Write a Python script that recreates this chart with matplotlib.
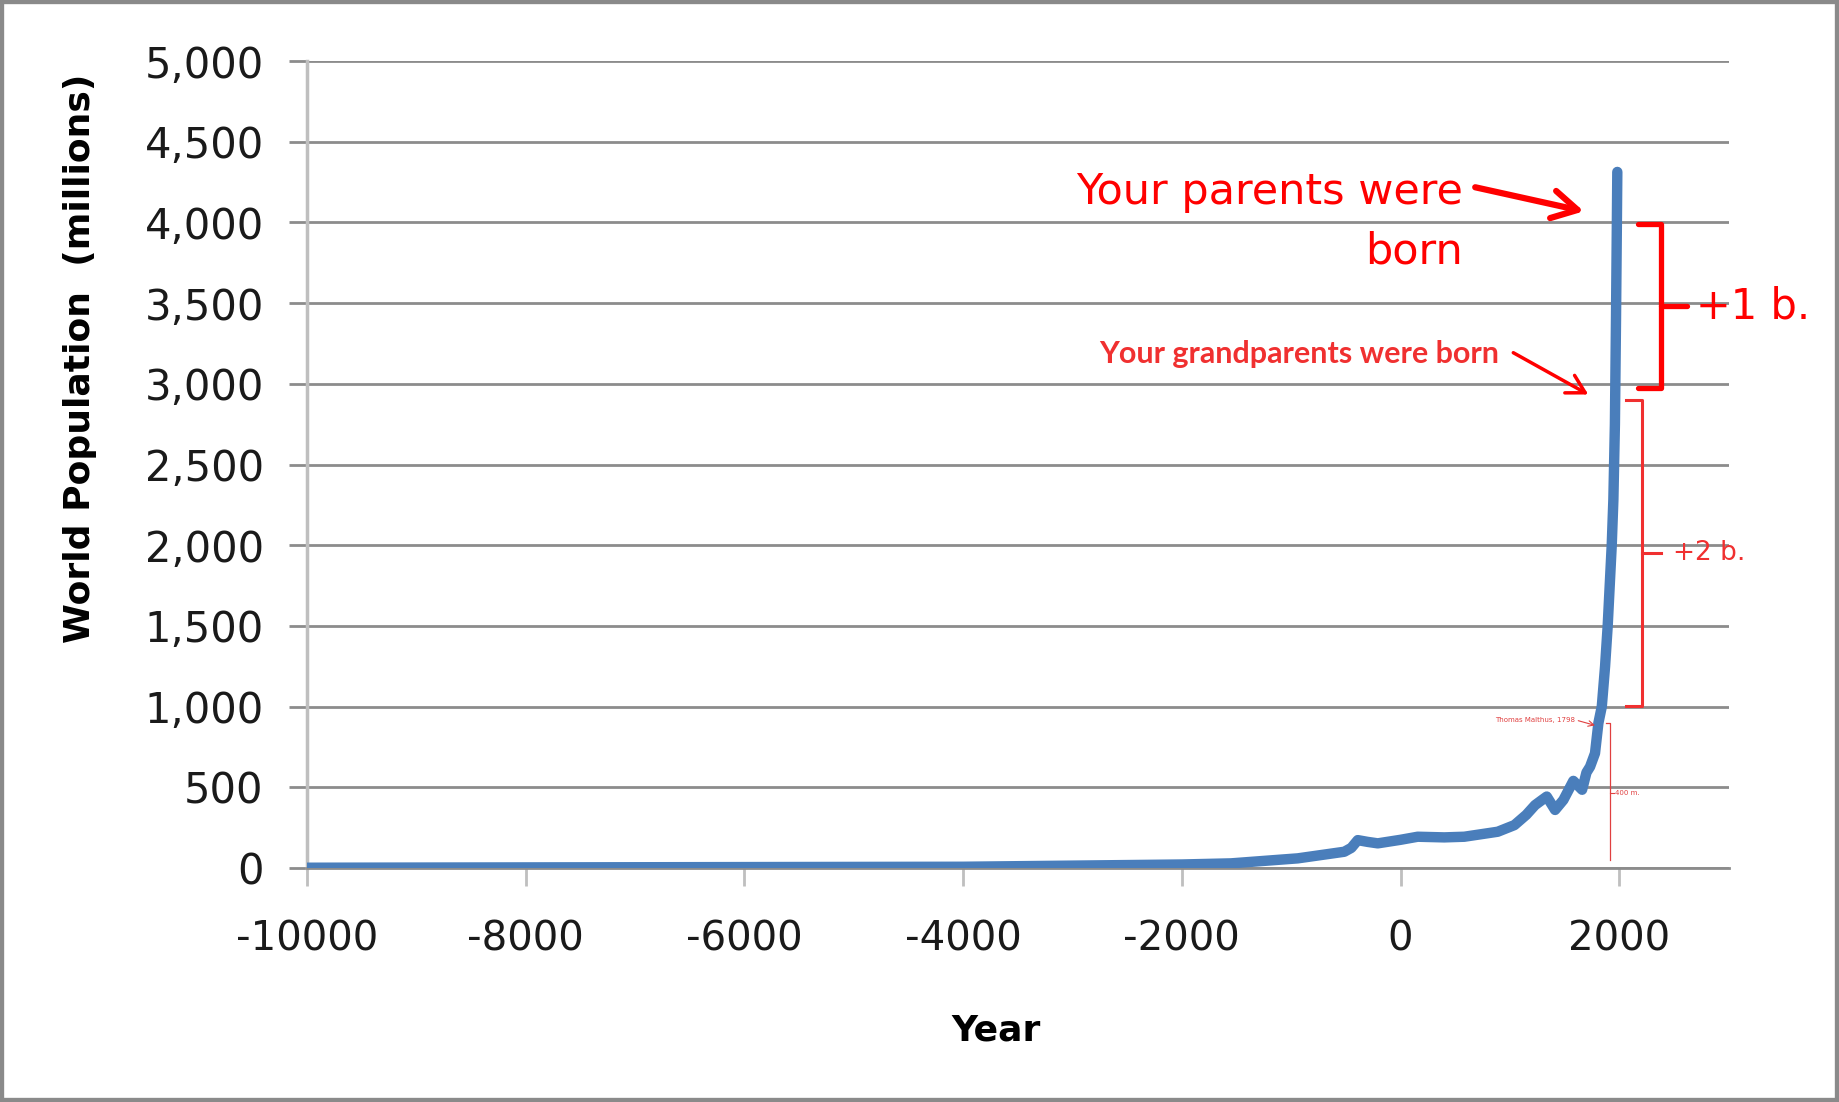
import matplotlib.pyplot as plt
from matplotlib.patches import Rectangle
from matplotlib.ticker import FuncFormatter

plt.rcParams["axes.unicode_minus"] = False

# world population estimates (year, millions)
years = [-10000, -9000, -8000, -7000, -6000, -5000, -4000, -3000, -2000, -1550,
         -940, -514, -450, -391, -300, -208, 0, 157, 400, 583,
         889, 1041, 1150, 1230, 1290, 1337, 1413, 1489, 1580, 1660,
         1700, 1733, 1778, 1809, 1840, 1870, 1894, 1931, 1946, 1960,
         1970, 1978, 1982]
population = [2, 3, 4, 5, 6, 7, 8, 15, 22, 29,
              60, 101, 125, 173, 162, 153, 175, 194, 190, 194,
              225, 266, 330, 390, 420, 443, 360, 422, 540, 485,
              592, 628, 711, 898, 1000, 1249, 1500, 2000, 2283, 2750,
              3400, 4000, 4313]

x_ticks = [-10000, -8000, -6000, -4000, -2000, 0, 2000]
y_ticks = [0, 500, 1000, 1500, 2000, 2500, 3000, 3500, 4000, 4500, 5000]

red = "#ff0000"
light_red = "#f03030"

fig = plt.figure(figsize=(18.39, 11.02), dpi=100)
ax = fig.add_axes([0.1668, 0.2123, 0.7732, 0.7323])

ax.plot(years, population, color="#4a7ebb", linewidth=7.5,
        solid_capstyle="round", solid_joinstyle="round", zorder=3)

ax.set_xlim(-10000, 3000)
ax.set_ylim(0, 5000)
ax.set_xticks(x_ticks)
ax.set_yticks(y_ticks)
ax.yaxis.set_major_formatter(FuncFormatter(lambda v, p: f"{int(v):,}"))
ax.grid(axis="y", color="#8c8c8c", linewidth=2)
ax.set_axisbelow(True)
ax.spines["top"].set_visible(False)
ax.spines["right"].set_visible(False)
ax.spines["left"].set_color("#bfbfbf")
ax.spines["left"].set_linewidth(2.5)
ax.spines["bottom"].set_color("#8c8c8c")
ax.spines["bottom"].set_linewidth(2)
ax.tick_params(axis="y", length=13, width=2, color="#8c8c8c",
               labelsize=30, pad=18, labelcolor="#1a1a1a")
ax.tick_params(axis="x", length=13, width=2, color="#bfbfbf",
               labelsize=29, pad=24, labelcolor="#1a1a1a")

fig.text(80 / 1839, 0.6747, "World Population  (millions)", rotation=90,
         fontsize=26, fontweight="bold", ha="center", va="center")
fig.text(0.5416, 0.0653, "Year", fontsize=26, fontweight="bold",
         ha="center", va="center")

# parents annotation
ax.text(571, 4113, "Your parents were", color=red, fontsize=31,
        ha="right", va="baseline")
ax.text(571, 3747, "born", color=red, fontsize=31, ha="right", va="baseline")
ax.annotate("", xy=(1676, 4069), xytext=(683, 4218),
            arrowprops=dict(arrowstyle="->, head_length=0.9, head_width=0.5",
                            mutation_scale=20, color=red, lw=4.5,
                            shrinkA=0, shrinkB=0))

# grandparents annotation
ax.text(900, 3130, "Your grandparents were born", color=light_red,
        fontsize=22, fontweight="bold", family="Lato", ha="right", va="baseline")
ax.annotate("", xy=(1717, 2934), xytext=(1031, 3193),
            arrowprops=dict(arrowstyle="->, head_length=0.8, head_width=0.45",
                            mutation_scale=16, color=red, lw=2.5,
                            shrinkA=0, shrinkB=0))

# +1 b. bracket
ax.plot([2172, 2385, 2385, 2172], [3989, 3989, 2973, 2973], color=red, lw=3.8,
        solid_joinstyle="round", solid_capstyle="round", clip_on=False)
ax.plot([2385, 2622], [3483, 3483], color=red, lw=3.8,
        solid_capstyle="round", clip_on=False)
ax.text(2701, 3480, "+1 b.", color=red, fontsize=30, ha="left", va="center")

# +2 b. bracket
ax.plot([2065, 2208, 2208, 2065], [2897, 2897, 1005, 1005], color=light_red, lw=2.2,
        solid_joinstyle="round", clip_on=False)
ax.plot([2208, 2385], [1952, 1952], color=light_red, lw=2.2, clip_on=False)
ax.text(2491, 1952, "+2 b.", color=light_red, fontsize=19, ha="left", va="center")

# Malthus marker
ax.text(1593, 918, "Thomas Malthus, 1798", color="#e04040", fontsize=5,
        ha="right", va="center")
ax.annotate("", xy=(1778, 884), xytext=(1625, 913),
            arrowprops=dict(arrowstyle="->", color="#e04040", lw=0.8,
                            shrinkA=0, shrinkB=0))
ax.plot([1882, 1913, 1913], [898, 898, 50], color="#e04040", lw=0.9, zorder=4)
ax.plot([1913, 1950], [467, 467], color="#e04040", lw=0.8, zorder=4)
ax.text(1961, 467, "400 m.", color="#e04040", fontsize=5, ha="left", va="center")

fig.add_artist(Rectangle((0, 0), 1, 1, transform=fig.transFigure, fill=False,
                         edgecolor="#8a8a8a", linewidth=6))

fig.savefig("out.png", dpi=100)
